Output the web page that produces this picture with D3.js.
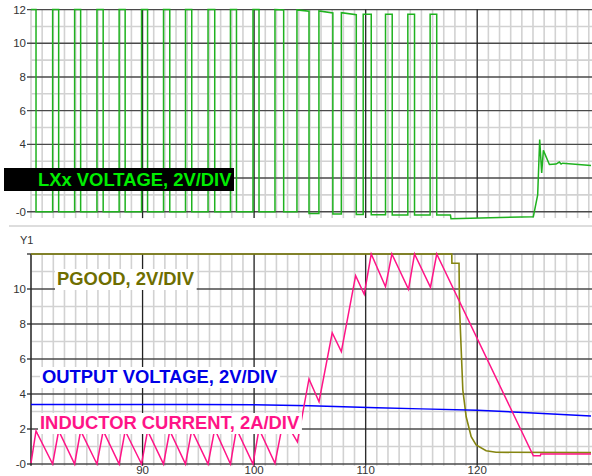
<!DOCTYPE html>
<html>
<head>
<meta charset="utf-8">
<script src="https://cdn.jsdelivr.net/npm/d3@7"></script>
<style>
  body { margin: 0; background: #fff; }
  svg { display: block; font-family: "Liberation Sans", Arial, sans-serif; }
</style>
</head>
<body>
<svg width="592" height="476"></svg>
<script>
// Axis ticks
var xTicks = [90, 100, 110, 120];
var yTicksTop = [12, 10, 8, 6, 4, 2, 0];
var yTicksBottom = [10, 8, 6, 4, 2, 0];

// LXx switching pulses (time in us, rise / fall edges and levels)
var lxRise = [80.00, 81.94, 83.91, 85.91, 87.90, 89.91, 91.88, 93.85, 95.87, 97.88,
  99.90, 101.87, 103.84, 105.81, 107.82, 109.78, 111.78, 113.78, 115.78];
var lxFall = [80.45, 82.48, 84.45, 86.47, 88.44, 90.45, 92.44, 94.41, 96.47, 98.42,
  100.44, 102.65, 104.92, 107.06, 109.16, 110.50, 112.38, 114.38, 116.37];
var lxTopStart = [12, 12, 12, 12, 12, 12, 12, 12, 12, 12, 12, 12, 11.98, 11.92, 11.82, 11.72, 11.72, 11.72, 11.72];
var lxTopEnd = [12, 12, 12, 12, 12, 12, 12, 12, 12, 12, 12, 11.98, 11.9, 11.8, 11.7, 11.72, 11.72, 11.72, 11.72];
var lxLow = [0, 0, 0, 0, 0, 0, 0, 0, 0, 0, 0, 0, -0.1, -0.13, -0.16, -0.18, -0.2, -0.2, -0.2];
// LXx after switching stops
var lxTail = [[117.6, -0.2], [117.65, -0.42], [125.03, -0.3], [125.42, 1.0], [125.6, 4.28],
  [125.78, 2.3], [125.93, 3.64], [126.47, 2.8], [127.07, 2.83], [127.36, 2.95],
  [127.52, 2.83], [127.66, 2.88], [130.2, 2.75]];

// Inductor current
var ilTime = [80.0, 80.45, 81.94, 82.48, 83.91, 84.45, 85.91, 86.47, 87.90, 88.44,
  89.91, 90.45, 91.88, 92.44, 93.85, 94.41, 95.87, 96.47, 97.88, 98.42,
  99.90, 100.44, 101.87, 102.65, 103.88, 104.92, 105.82, 107.0, 107.82, 109.1,
  109.87, 110.5, 111.78, 112.35, 113.84, 114.38, 115.81, 116.37, 125.03, 125.66,
  125.7, 130.2];
var ilValue = [0.05, 1.89, 0, 1.9, 0, 1.9, 0, 1.9, 0, 1.9,
  0, 1.9, 0, 1.9, 0, 1.95, 0, 2.0, 0, 2.0,
  0, 2.0, 0.04, 2.6, 1.27, 4.86, 3.56, 7.5, 6.42, 10.76,
  9.7, 12.0, 10.13, 12.0, 9.98, 12.0, 10.1, 12.0, 0.47, 0.47,
  0.57, 0.57];

// PGOOD
var pgTime = [80, 117.72, 117.73, 118.37, 118.41, 118.71, 119.01, 119.46, 119.9, 120.8, 121.69, 130.2];
var pgValue = [12, 12, 11.47, 11.47, 8.99, 4.23, 2.7, 1.56, 1.09, 0.76, 0.67, 0.65];

// Output voltage
var voTime = [80, 95, 100, 105, 108, 111, 115, 120, 125, 130.2];
var voValue = [3.4, 3.4, 3.38, 3.33, 3.27, 3.22, 3.15, 3.07, 2.92, 2.74];

var svg = d3.select("svg");
var right = 592;

var x = d3.scaleLinear().domain([80, 130.2]).range([31, 591]);
var yTop = d3.scaleLinear().domain([-0.38, 12]).range([218.1, 9.6]);
var yBot = d3.scaleLinear().domain([-0.1, 12]).range([465.75, 254]);

// Build the LXx point list from the pulse edges
var lxPoints = [];
lxRise.forEach(function (r, i) {
  if (i > 0) lxPoints.push([r, lxLow[i - 1]]);
  lxPoints.push([r, lxTopStart[i]]);
  lxPoints.push([lxFall[i], lxTopEnd[i]]);
  lxPoints.push([lxFall[i], lxLow[i]]);
});
lxPoints = lxPoints.concat(lxTail);

var minorColor = "#d2d2d2";

// Grid for one panel
function drawGrid(y, yMin, yMax) {
  var g = svg.append("g");
  var minorX = d3.range(80, 131, 1);
  var yTop0 = y(yMax), yBottom0 = y(yMin);

  g.selectAll(".vminor")
    .data(minorX)
    .enter()
    .append("line")
    .attr("x1", (d) => x(d))
    .attr("x2", (d) => x(d))
    .attr("y1", yTop0)
    .attr("y2", yBottom0)
    .style("stroke", minorColor)
    .style("stroke-width", 1.6);

  g.selectAll(".hminor")
    .data(d3.range(1, 12, 2))
    .enter()
    .append("line")
    .attr("x1", 31)
    .attr("x2", right)
    .attr("y1", (d) => y(d))
    .attr("y2", (d) => y(d))
    .style("stroke", minorColor)
    .style("stroke-width", 1.6);

  g.selectAll(".hmajor")
    .data(d3.range(0, 13, 2))
    .enter()
    .append("line")
    .attr("x1", 27)
    .attr("x2", right)
    .attr("y1", (d) => y(d))
    .attr("y2", (d) => y(d))
    .style("stroke", "#4a4a4a")
    .style("stroke-width", 1.4);

  g.selectAll(".vmajor")
    .data(xTicks)
    .enter()
    .append("line")
    .attr("x1", (d) => x(d))
    .attr("x2", (d) => x(d))
    .attr("y1", yTop0)
    .attr("y2", yBottom0)
    .style("stroke", "#222")
    .style("stroke-width", 1.2);
  return g;
}

function yLabels(y, ticks) {
  svg.append("g")
    .selectAll("text")
    .data(ticks)
    .enter()
    .append("text")
    .attr("x", 26)
    .attr("y", (d) => y(d))
    .attr("dy", "0.36em")
    .style("text-anchor", "end")
    .style("font-size", "11.5px")
    .style("fill", "#333")
    .text((d) => (d === 0 ? "-0" : d));
}

var line = function (y) {
  return d3.line().x((d) => x(d[0])).y((d) => y(d[1]));
};

// ---- top panel: LXx voltage
drawGrid(yTop, -0.38, 12);
yLabels(yTop, yTicksTop);

svg.append("path")
  .datum(lxPoints)
  .attr("d", line(yTop))
  .style("fill", "none")
  .style("stroke", "#1fb21f")
  .style("stroke-width", 1.5);

svg.append("rect")
  .attr("x", 4)
  .attr("y", 168)
  .attr("width", 230)
  .attr("height", 23)
  .style("fill", "#000");

svg.append("text")
  .attr("x", 38)
  .attr("y", 186)
  .style("font-size", "18.4px")
  .style("font-weight", "bold")
  .style("fill", "#00ee00")
  .text("LXx VOLTAGE, 2V/DIV");

// separator between panels
svg.append("line")
  .attr("x1", 9)
  .attr("x2", right)
  .attr("y1", 226)
  .attr("y2", 226)
  .style("stroke", "#ddd")
  .style("stroke-width", 2);

// ---- bottom panel
drawGrid(yBot, -0.1, 12);
yLabels(yBot, yTicksBottom);

svg.append("line")
  .attr("x1", 31)
  .attr("x2", 31)
  .attr("y1", yBot(12))
  .attr("y2", yBot(-0.1))
  .style("stroke", "#222")
  .style("stroke-width", 1.4);

svg.append("g")
  .selectAll("text")
  .data(xTicks)
  .enter()
  .append("text")
  .attr("x", (d) => x(d))
  .attr("y", 474)
  .style("text-anchor", "middle")
  .style("font-size", "11.5px")
  .style("fill", "#333")
  .text((d) => d);

svg.append("text")
  .attr("x", 20)
  .attr("y", 244)
  .style("font-size", "11px")
  .style("fill", "#333")
  .text("Y1");

svg.append("path")
  .datum(d3.zip(pgTime, pgValue))
  .attr("d", line(yBot))
  .style("fill", "none")
  .style("stroke", "#858510")
  .style("stroke-width", 1.6);

svg.append("path")
  .datum(d3.zip(voTime, voValue))
  .attr("d", line(yBot))
  .style("fill", "none")
  .style("stroke", "#0000ff")
  .style("stroke-width", 1.5);

svg.append("path")
  .datum(d3.zip(ilTime, ilValue))
  .attr("d", line(yBot))
  .style("fill", "none")
  .style("stroke", "#ff1487")
  .style("stroke-width", 1.5);

// Labels with white background
function label(txt, lx, ly, color) {
  var g = svg.append("g");
  var bg = g.append("rect").style("fill", "#fff");
  var t = g.append("text")
    .attr("x", lx)
    .attr("y", ly)
    .style("font-size", "18.4px")
    .style("font-weight", "bold")
    .style("fill", color)
    .text(txt);
  var b = t.node().getBBox();
  bg.attr("x", b.x - 2)
    .attr("y", b.y + 1)
    .attr("width", b.width + 4)
    .attr("height", b.height);
}

label("PGOOD, 2V/DIV", 57, 285, "#6e6e00");
label("OUTPUT VOLTAGE, 2V/DIV", 42, 383, "#0000e6");
label("INDUCTOR CURRENT, 2A/DIV", 40, 429, "#ff1487");
</script>
</body>
</html>
